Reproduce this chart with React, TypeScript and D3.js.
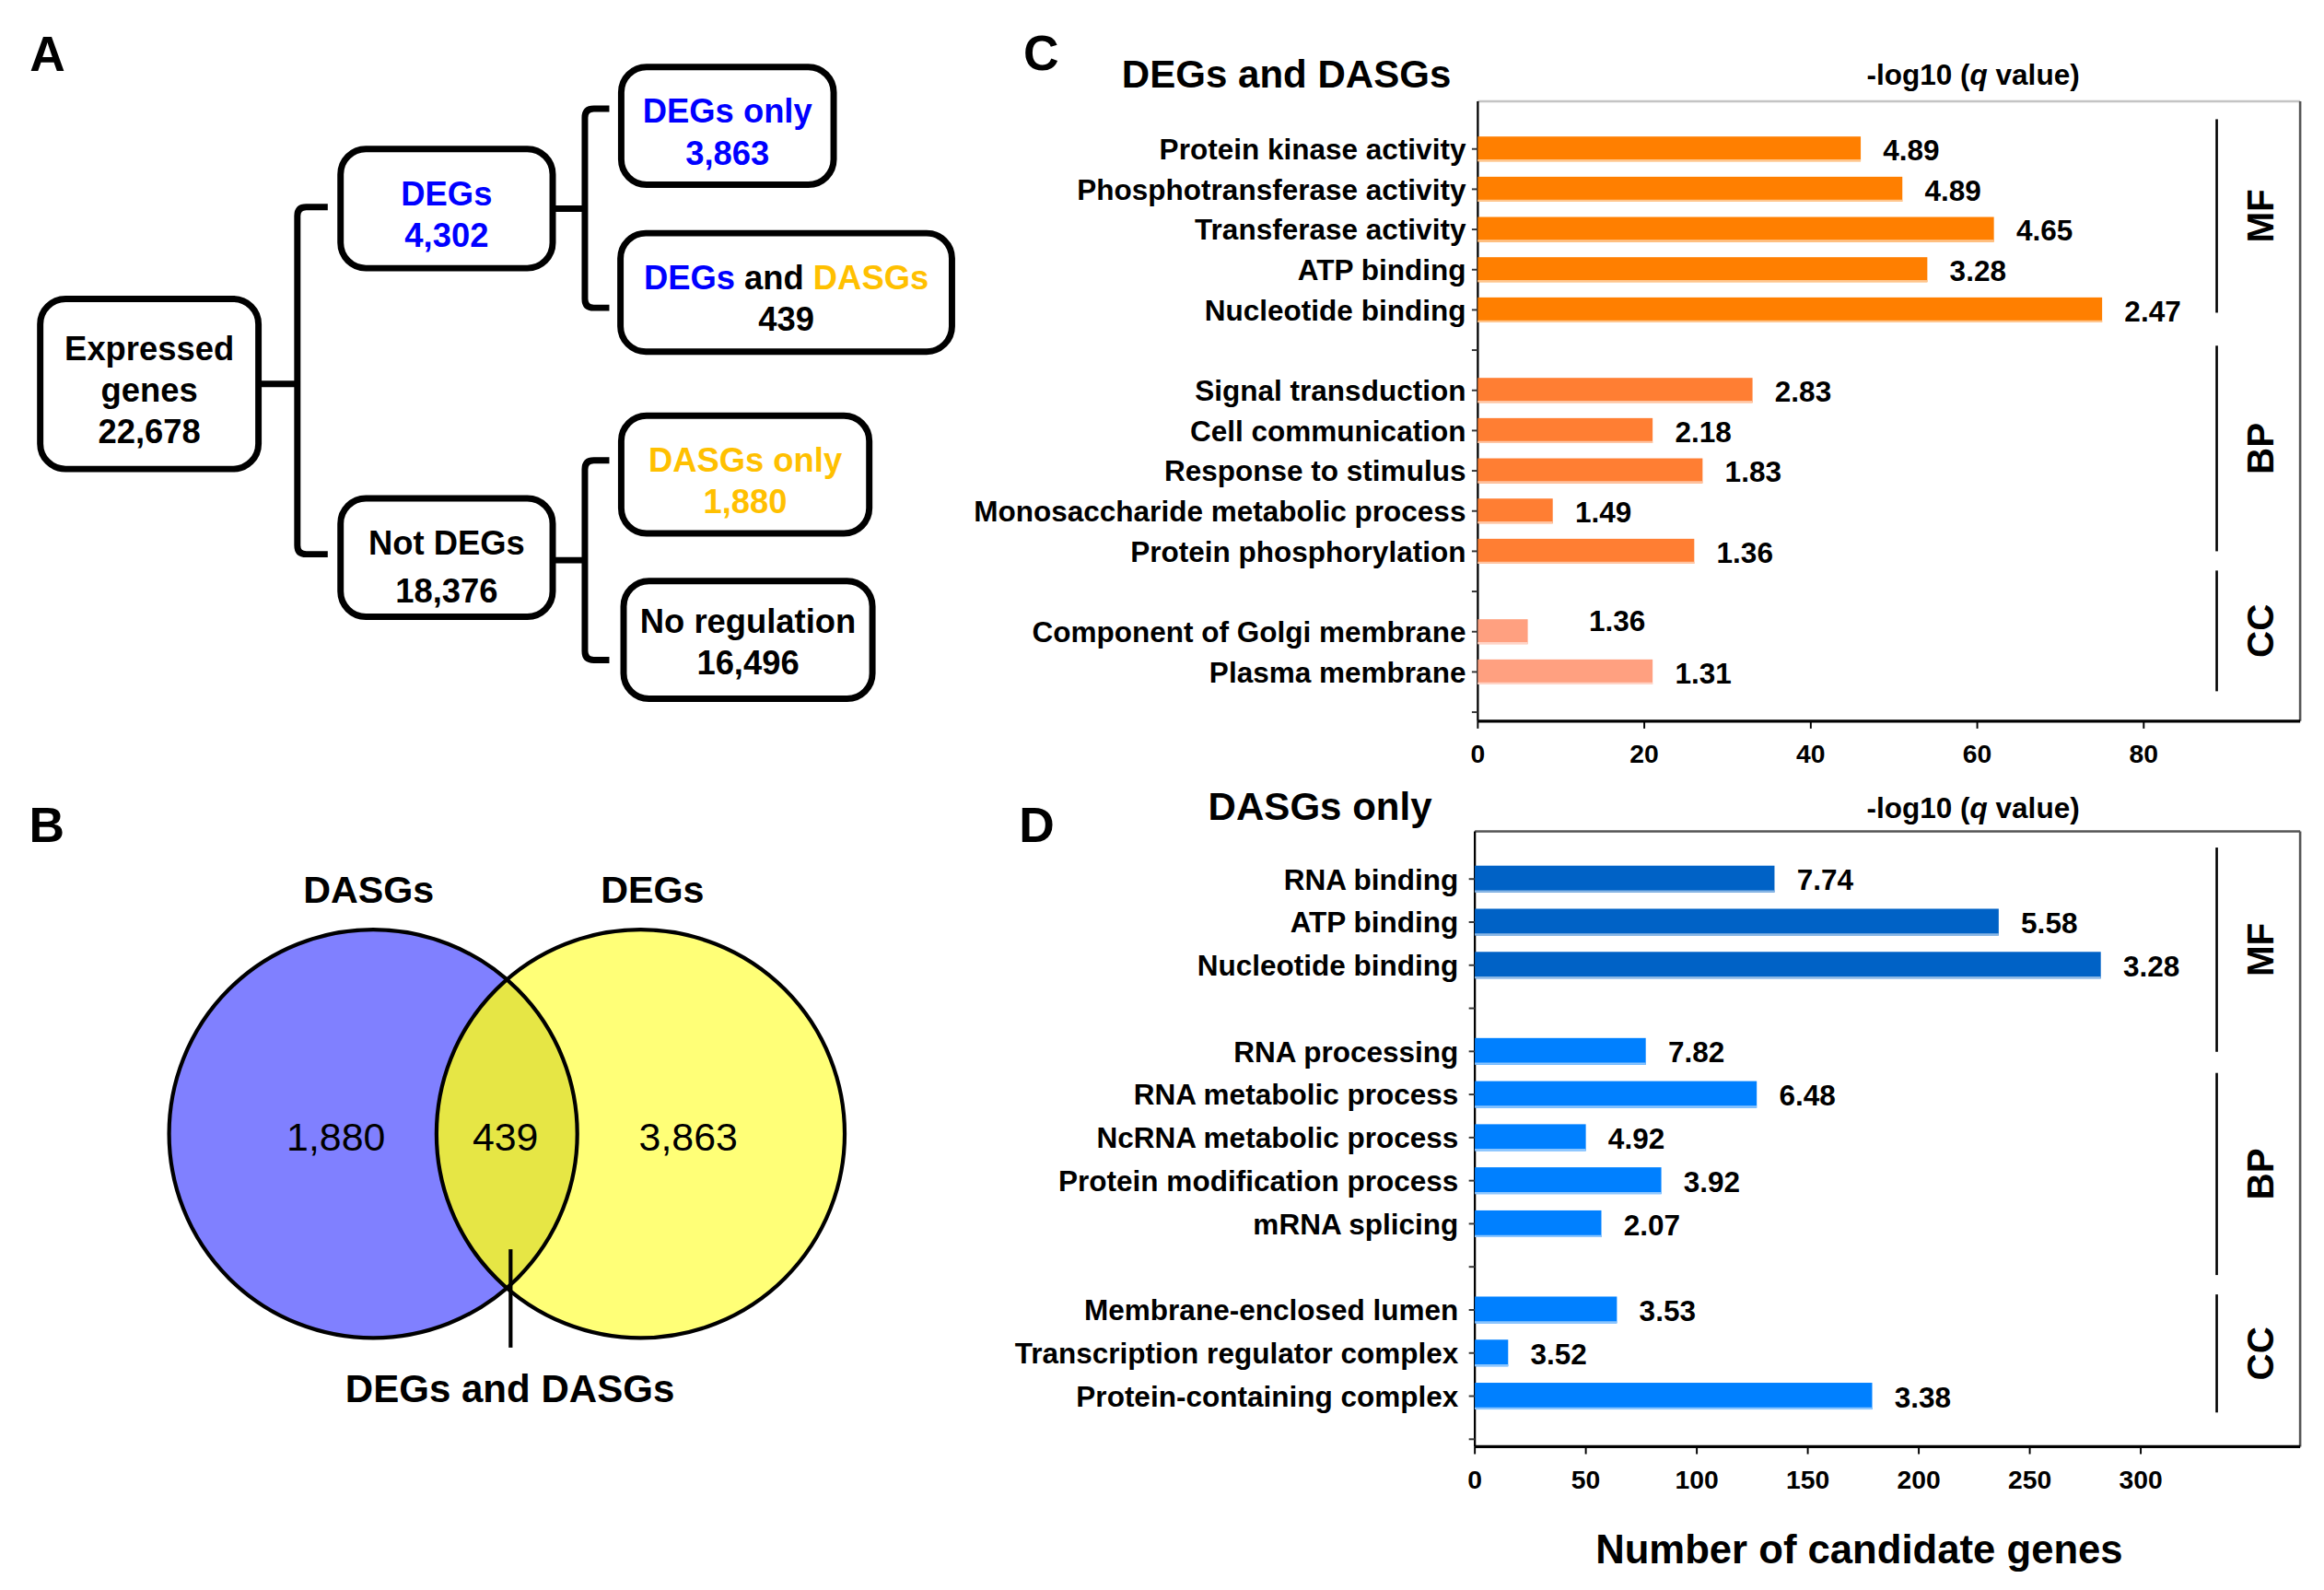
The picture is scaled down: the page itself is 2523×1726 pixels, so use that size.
import React from 'react';
import * as d3 from 'd3';

// ---- data -----------------------------------------------------------------
const treeCounts = {
  expressed: 22678,
  degs: 4302,
  notDegs: 18376,
  degsOnly: 3863,
  both: 439,
  dasgsOnly: 1880,
  noRegulation: 16496,
};

const vennSets = ['DASGs', 'DEGs'];
const vennCounts = [1880, 439, 3863];

const cTerms = [
  'Protein kinase activity',
  'Phosphotransferase activity',
  'Transferase activity',
  'ATP binding',
  'Nucleotide binding',
  'Signal transduction',
  'Cell communication',
  'Response to stimulus',
  'Monosaccharide metabolic process',
  'Protein phosphorylation',
  'Component of Golgi membrane',
  'Plasma membrane',
];
const cCounts = [46, 51, 62, 54, 75, 33, 21, 27, 9, 26, 6, 21];
const cQ = ['4.89', '4.89', '4.65', '3.28', '2.47', '2.83', '2.18', '1.83', '1.49', '1.36', '1.36', '1.31'];
const cOnto = ['MF', 'MF', 'MF', 'MF', 'MF', 'BP', 'BP', 'BP', 'BP', 'BP', 'CC', 'CC'];
const cTicks = [0, 20, 40, 60, 80];

const dTerms = [
  'RNA binding',
  'ATP binding',
  'Nucleotide binding',
  'RNA processing',
  'RNA metabolic process',
  'NcRNA metabolic process',
  'Protein modification process',
  'mRNA splicing',
  'Membrane-enclosed lumen',
  'Transcription regulator complex',
  'Protein-containing complex',
];
const dCounts = [135, 236, 282, 77, 127, 50, 84, 57, 64, 15, 179];
const dQ = ['7.74', '5.58', '3.28', '7.82', '6.48', '4.92', '3.92', '2.07', '3.53', '3.52', '3.38'];
const dOnto = ['MF', 'MF', 'MF', 'BP', 'BP', 'BP', 'BP', 'BP', 'CC', 'CC', 'CC'];
const dTicks = [0, 50, 100, 150, 200, 250, 300];

const ontologies = ['MF', 'BP', 'CC'];

// ---- styling / layout -------------------------------------------------------
const W = 1560;
const H = (1726 * W) / 2523;
const FONT = '"Liberation Sans", Arial, Helvetica, sans-serif';
const BLUE = '#0000ff';
const GOLD = '#ffc000';
const fmt = d3.format(',');

const cColors: Record<string, string> = { MF: '#ff7f00', BP: '#ff7e33', CC: '#ffa080' };
const dColors: Record<string, string> = { MF: '#0062c6', BP: '#0080ff', CC: '#0080ff' };

type Seg = [string, string];
type TreeNode = { id: string; lines: Seg[][]; box: [number, number, number, number]; gap?: number; dy?: number };

const treeNodes: TreeNode[] = [
  { id: 'root', lines: [[['Expressed', '#000']], [['genes', '#000']], [[fmt(treeCounts.expressed), '#000']]], box: [27, 200.6, 146.5, 114.2] },
  { id: 'degs', lines: [[['DEGs', BLUE]], [[fmt(treeCounts.degs), BLUE]]], box: [228.6, 100, 142.4, 80] },
  { id: 'not', lines: [[['Not DEGs', '#000']], [[fmt(treeCounts.notDegs), '#000']]], box: [228.6, 334.5, 142.4, 79.5], gap: 32, dy: 2 },
  { id: 'degsOnly', lines: [[['DEGs only', BLUE]], [[fmt(treeCounts.degsOnly), BLUE]]], box: [417, 45, 142.6, 79] },
  { id: 'both', lines: [[['DEGs', BLUE], [' and ', '#000'], ['DASGs', GOLD]], [[fmt(treeCounts.both), '#000']]], box: [416.5, 156.5, 222.5, 79.5] },
  { id: 'dasgsOnly', lines: [[['DASGs only', GOLD]], [[fmt(treeCounts.dasgsOnly), GOLD]]], box: [417, 279, 166.5, 79] },
  { id: 'noReg', lines: [[['No regulation', '#000']], [[fmt(treeCounts.noRegulation), '#000']]], box: [418.6, 390, 167, 79], dy: -3 },
];

// parent stub start x, stub y, vertical x, top y, bottom y, tick end x
const treeBrackets = [
  [173.5, 257.7, 199.6, 139, 372, 220],
  [371, 140, 392.6, 73, 206.6, 409],
  [371, 376, 392.6, 309, 443, 409],
];

type PanelLayout = {
  letter: string;
  letterPos: [number, number];
  title: string;
  titlePos: [number, number];
  qPos: [number, number];
  x0: number;
  xAt: [number, number];
  right: number;
  top: number;
  bottom: number;
  slotRange: [number, number];
  labelGap: number;
  topStroke: string;
  brackets: [number, number][];
};

const cLayout: PanelLayout = {
  letter: 'C', letterPos: [691, 47], title: 'DEGs and DASGs', titlePos: [757, 59], qPos: [1257, 57],
  x0: 996, xAt: [80, 1443], right: 1548, top: 68, bottom: 484, slotRange: [100, 478], labelGap: 8,
  topStroke: '#c4c4c4',
  brackets: [[-0.74, 4.07], [4.89, 10.0], [10.48, 13.48]],
};
const dLayout: PanelLayout = {
  letter: 'D', letterPos: [688, 565], title: 'DASGs only', titlePos: [815, 550], qPos: [1257, 549],
  x0: 994, xAt: [300, 1441], right: 1548, top: 558, bottom: 971, slotRange: [590, 966], labelGap: 11,
  topStroke: '#555',
  brackets: [[-0.73, 4.01], [4.5, 9.19], [9.64, 12.38]],
};

const labelNudge: Record<string, [number, number]> = {
  'Component of Golgi membrane': [26, -8],
};

function TreeBox({ n }: { n: TreeNode }) {
  const [x, y, w, h] = n.box;
  const cx = x + w / 2;
  const cy = y + h / 2;
  const gap = n.gap ?? 28;
  const k = n.lines.length;
  return (
    <g>
      <rect x={x} y={y} width={w} height={h} rx={17} ry={17} fill="#fff" stroke="#000" strokeWidth={4.3} />
      {n.lines.map((line, i) => (
        <text key={i} x={cx} y={cy + 12 + (i - (k - 1) / 2) * gap + (n.dy ?? 0)} textAnchor="middle"
          fontSize={22.5} fontWeight="bold" fontFamily={FONT}>
          {line.map((s, j) => (
            <tspan key={j} fill={s[1]}>{s[0]}</tspan>
          ))}
        </text>
      ))}
    </g>
  );
}

function PanelA() {
  return (
    <g>
      <text x={20} y={47.5} fontSize={33} fontWeight="bold" fontFamily={FONT}>A</text>
      {treeBrackets.map(([sx, sy, vx, t, b, te], i) => {
        const r = 6;
        const p = d3.path();
        p.moveTo(te, t);
        p.lineTo(vx + r, t);
        p.quadraticCurveTo(vx, t, vx, t + r);
        p.lineTo(vx, b - r);
        p.quadraticCurveTo(vx, b, vx + r, b);
        p.lineTo(te, b);
        p.moveTo(sx, sy);
        p.lineTo(vx, sy);
        return <path key={i} d={p.toString()} fill="none" stroke="#000" strokeWidth={4.3} />;
      })}
      {treeNodes.map((n) => <TreeBox key={n.id} n={n} />)}
    </g>
  );
}

function PanelB() {
  const r = 137;
  const cy = 761;
  const cx = d3.scalePoint<string>().domain(vennSets).range([250.5, 430]);
  const lx = cx(vennSets[0])!;
  const rx = cx(vennSets[1])!;
  const mid = (lx + rx) / 2;
  // point where the two circles meet at the bottom
  const half = (rx - lx) / 2;
  const meetY = cy + Math.sqrt(r * r - half * half);
  const numX = [lx - 25, mid - 1, rx + 32];
  return (
    <g fontFamily={FONT}>
      <text x={19.5} y={565} fontSize={33} fontWeight="bold">B</text>
      <defs>
        <clipPath id="leftClip"><circle cx={lx} cy={cy} r={r} /></clipPath>
      </defs>
      <circle cx={lx} cy={cy} r={r} fill="#8080ff" />
      <circle cx={rx} cy={cy} r={r} fill="#ffff77" />
      <circle cx={rx} cy={cy} r={r} fill="#e6e645" clipPath="url(#leftClip)" />
      <circle cx={lx} cy={cy} r={r} fill="none" stroke="#000" strokeWidth={2.6} />
      <circle cx={rx} cy={cy} r={r} fill="none" stroke="#000" strokeWidth={2.6} />
      <text x={lx - 3} y={606} textAnchor="middle" fontSize={25.5} fontWeight="bold">{vennSets[0]}</text>
      <text x={rx + 8} y={606} textAnchor="middle" fontSize={25.5} fontWeight="bold">{vennSets[1]}</text>
      {vennCounts.map((v, i) => (
        <text key={i} x={numX[i]} y={772} textAnchor="middle" fontSize={26.5}>{fmt(v)}</text>
      ))}
      <line x1={mid + 2.5} x2={mid + 2.5} y1={meetY - 26} y2={meetY + 40} stroke="#000" strokeWidth={2.6} />
      <text x={mid + 2} y={941} textAnchor="middle" fontSize={26} fontWeight="bold">DEGs and DASGs</text>
    </g>
  );
}

function GoPanel({ L, terms, counts, q, onto, ticks, colors }: {
  L: PanelLayout; terms: string[]; counts: number[]; q: string[]; onto: string[]; ticks: number[];
  colors: Record<string, string>;
}) {
  // slots: each group's terms followed by an empty gap slot
  const slots: string[] = [];
  ontologies.forEach((o) => {
    terms.forEach((t, i) => { if (onto[i] === o) slots.push(t); });
    slots.push('__gap_' + o);
  });
  const y = d3.scalePoint<string>().domain(slots).range(L.slotRange);
  const step = y.step();
  const bh = step * 0.62;
  const x = d3.scaleLinear().domain([0, L.xAt[0]]).range([L.x0, L.xAt[1]]);
  const slotY = (u: number) => L.slotRange[0] + u * step;

  return (
    <g fontFamily={FONT} fontWeight="bold">
      <text x={L.letterPos[0]} y={L.letterPos[1]} fontSize={33}>{L.letter}</text>
      <text x={L.titlePos[0]} y={L.titlePos[1]} fontSize={26}>{L.title}</text>
      <text x={L.qPos[0]} y={L.qPos[1]} fontSize={19.5}>
        -log10 (<tspan fontStyle="italic">q</tspan> value)
      </text>

      {/* frame */}
      <line x1={L.x0} x2={L.right} y1={L.top} y2={L.top} stroke={L.topStroke} strokeWidth={1.6} />
      <line x1={L.right} x2={L.right} y1={L.top} y2={L.bottom} stroke="#555" strokeWidth={1.6} />
      <line x1={L.x0} x2={L.x0} y1={L.top} y2={L.bottom} stroke="#000" strokeWidth={1.4} />
      <line x1={L.x0} x2={L.right} y1={L.bottom} y2={L.bottom} stroke="#000" strokeWidth={2} />

      {/* y ticks */}
      {slots.map((s) => (
        <line key={s} x1={L.x0 - 4} x2={L.x0} y1={y(s)} y2={y(s)} stroke="#333" strokeWidth={1.2} />
      ))}

      {/* x ticks */}
      {ticks.map((t) => (
        <g key={t}>
          <line x1={x(t)} x2={x(t)} y1={L.bottom} y2={L.bottom + 5} stroke="#000" strokeWidth={1.2} />
          <text x={x(t)} y={L.bottom + 28} textAnchor="middle" fontSize={17.5}>{t}</text>
        </g>
      ))}

      {/* bars */}
      {terms.map((t, i) => {
        const c = colors[onto[i]];
        const cy = y(t)!;
        const nudge = labelNudge[t] || [0, 0];
        return (
          <g key={t}>
            <rect x={x(0)} y={cy - bh / 2} width={x(counts[i]) - x(0)} height={bh} fill={c} />
            <line x1={x(0)} x2={x(counts[i])} y1={cy + bh / 2 - 0.7} y2={cy + bh / 2 - 0.7}
              stroke={d3.interpolateRgb(c, '#fff')(0.55)} strokeWidth={1.4} />
            <text x={L.x0 - L.labelGap} y={cy + 7} textAnchor="end" fontSize={19.5}>{t}</text>
            <text x={x(counts[i]) + 15 + nudge[0]} y={cy + 7.5 + nudge[1]} fontSize={19.5}>{q[i]}</text>
          </g>
        );
      })}

      {/* ontology brackets */}
      {L.brackets.map(([a, b], i) => {
        const y1 = slotY(a);
        const y2 = slotY(b);
        return (
          <g key={i}>
            <line x1={1492} x2={1492} y1={y1} y2={y2} stroke="#000" strokeWidth={1.6} />
            <text transform={`translate(${1530},${(y1 + y2) / 2}) rotate(-90)`} textAnchor="middle" fontSize={25}>
              {ontologies[i]}
            </text>
          </g>
        );
      })}
    </g>
  );
}

export default function App() {
  return (
    <svg width={2523} height={1726} viewBox={`0 0 ${W} ${H}`}
      style={{ position: 'absolute', left: 0, top: 0, display: 'block', background: '#fff' }}>
      <rect x={0} y={0} width={W} height={H} fill="#fff" />
      <PanelA />
      <PanelB />
      <g transform="translate(-4,0)">
        <GoPanel L={cLayout} terms={cTerms} counts={cCounts} q={cQ} onto={cOnto} ticks={cTicks} colors={cColors} />
        <GoPanel L={dLayout} terms={dTerms} counts={dCounts} q={dQ} onto={dOnto} ticks={dTicks} colors={dColors} />
        <text x={1252} y={1049} textAnchor="middle" fontSize={27} fontWeight="bold" fontFamily={FONT}>
          Number of candidate genes
        </text>
      </g>
    </svg>
  );
}
